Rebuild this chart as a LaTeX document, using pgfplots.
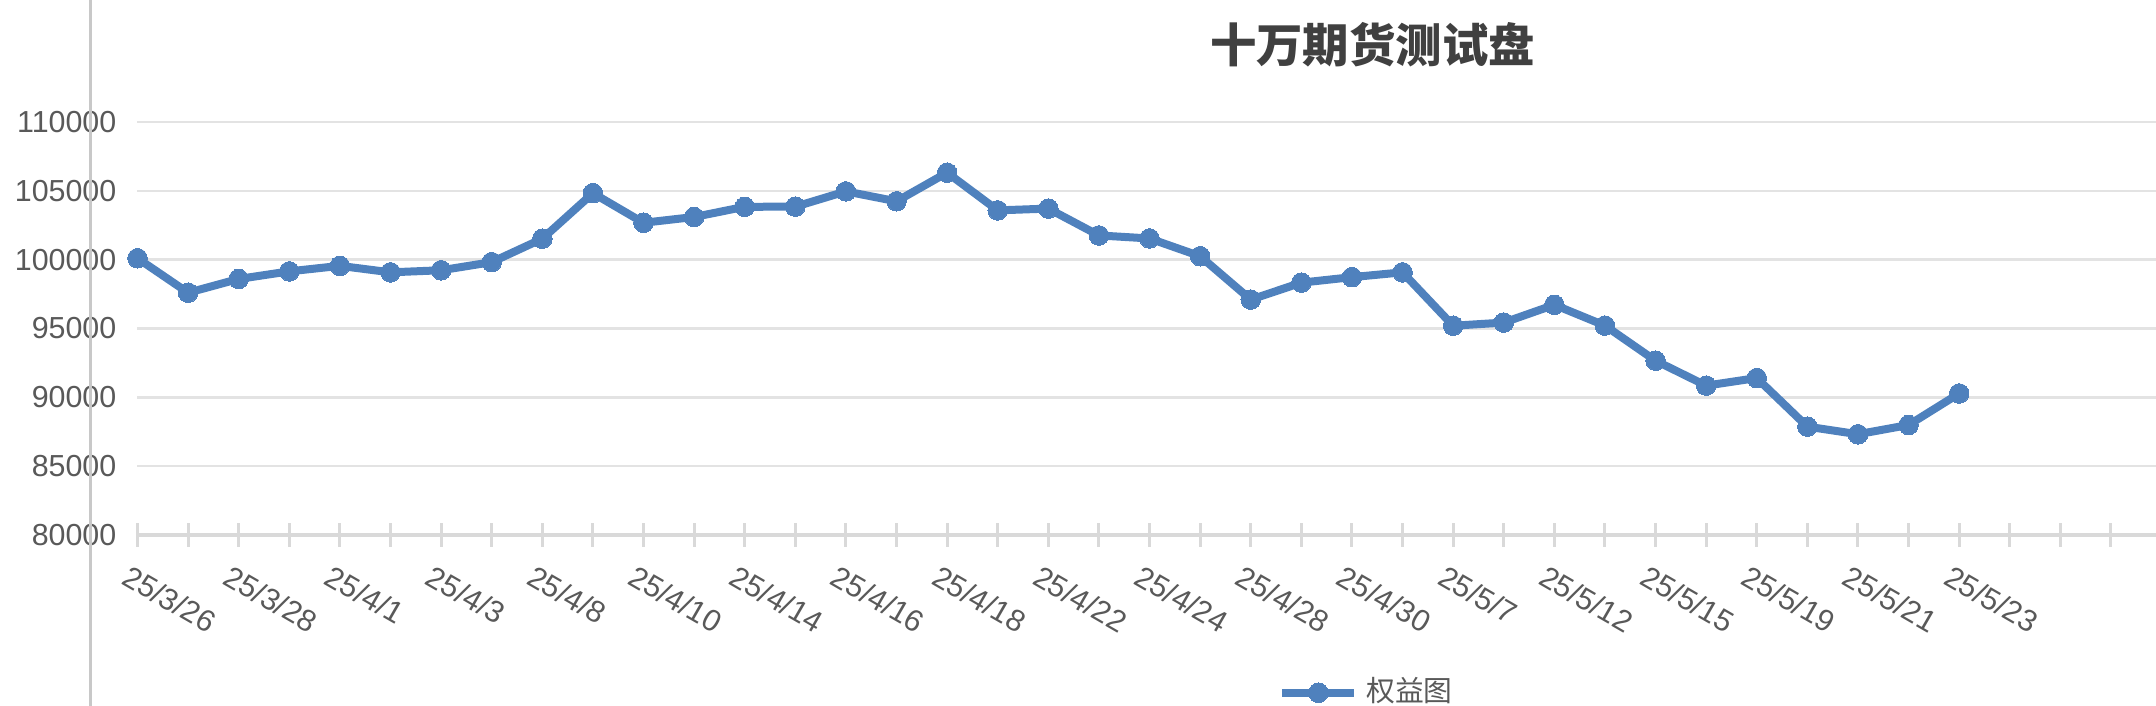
\documentclass[border=0pt]{standalone}
\usepackage{fontspec}
\usepackage{pgfplots}
\usepackage{pgfplotstable}
\pgfplotsset{compat=1.18}
\setmainfont{Liberation Sans}
\newfontfamily\cjk{Noto Sans CJK SC}

\definecolor{eqblue}{HTML}{4F81BD}
\definecolor{gridgray}{HTML}{E3E3E3}
\definecolor{axisgray}{HTML}{D9D9D9}
\definecolor{labelgray}{HTML}{595959}
\definecolor{titlegray}{HTML}{404040}
\definecolor{edgegray}{HTML}{C8C8C8}

% equity curve, one row per trading day
\pgfplotstableread{
idx value
0  100100
1  97600
2  98600
3  99150
4  99550
5  99080
6  99230
7  99820
8  101520
9  104830
10 102680
11 103100
12 103840
13 103850
14 104960
15 104240
16 106320
17 103580
18 103710
19 101760
20 101540
21 100250
22 97100
23 98330
24 98730
25 99080
26 95200
27 95430
28 96720
29 95210
30 92660
31 90850
32 91400
33 87870
34 87320
35 87990
36 90280
}\equity

\begin{document}
\begin{tikzpicture}
  \path[use as bounding box] (-34.375pt,-42.75pt) rectangle (504.625pt,133.75pt);
  \begin{axis}[
    at={(0pt,0pt)}, anchor=south west,
    scale only axis,
    width=504.625pt, height=103.25pt,
    xmin=0, xmax=39.89,
    ymin=80000, ymax=110000,
    clip=false,
    scaled y ticks=false,
    axis x line*=bottom,
    axis y line*=left,
    x axis line style={axisgray, line width=1pt, -},
    y axis line style={draw=none},
    xtick={0,...,39},
    xticklabels={25/3/26,,25/3/28,,25/4/1,,25/4/3,,25/4/8,,25/4/10,,25/4/14,,25/4/16,,25/4/18,,25/4/22,,25/4/24,,25/4/28,,25/4/30,,25/5/7,,25/5/12,,25/5/15,,25/5/19,,25/5/21,,25/5/23,,,},
    ytick={80000,85000,90000,95000,100000,105000,110000},
    yticklabels={80000,85000,90000,95000,100000,105000,110000},
    tick align=center,
    major tick length=6pt,
    xtick style={axisgray, line width=0.75pt},
    ytick style={draw=none},
    xticklabel style={font=\fontsize{7.6}{8}\selectfont, text=labelgray,
      inner sep=0pt, xshift=-1.6pt, yshift=-4pt, rotate=-30, anchor=north west},
    yticklabel style={font=\fontsize{7.6}{8}\selectfont, text=labelgray,
      inner sep=0pt, anchor=east, xshift=-2.1pt},
    ymajorgrids,
    grid style={gridgray, line width=0.6pt},
    legend style={draw=none, fill=none, at={(0.6104,-0.382)}, anchor=center,
      font=\cjk\fontsize{7.2}{8}\selectfont, text=labelgray},
    legend image code/.code={
      \draw[mark repeat=2, mark phase=2, #1] plot coordinates {(0pt,0pt) (9pt,0pt) (18pt,0pt)};
    },
  ]
    \addplot[eqblue, line width=2pt, line join=round, mark=*, mark size=2.45pt,
      mark options={solid, fill=eqblue, draw=eqblue, line width=0pt}]
      table[x=idx, y=value] {\equity};
    \addlegendentry{权益图}
  \end{axis}
  \draw[edgegray, line width=0.75pt] (-11.875pt,-42.75pt) -- (-11.875pt,133.75pt);
  \node[font=\cjk\bfseries\fontsize{11.6}{14}\selectfont, text=titlegray, inner sep=0pt]
    at (308.75pt,122.5pt) {十万期货测试盘};
\end{tikzpicture}
\end{document}
